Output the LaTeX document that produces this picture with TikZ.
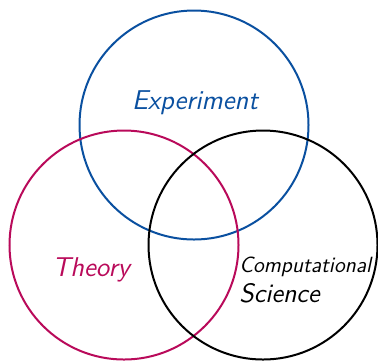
\documentclass[tikz,border=0pt]{standalone}
\usepackage{fontspec}
\definecolor{expblue}{RGB}{10,80,160}
\definecolor{theomag}{RGB}{185,10,90}
\begin{document}
\begin{tikzpicture}[x=0.5pt,y=-0.5pt,
  venn/.style={circle,draw,line width=1pt,minimum size=114.5pt,inner sep=0pt},
  lab/.style={inner sep=0pt}]
\useasboundingbox (0,0) rectangle (378,361);
\node[venn,draw=expblue] (exp) at (194,125) {};
\node[venn,draw=theomag] (theo) at (124,245) {};
\node[venn,draw=black] (comp) at (263,245) {};
\node[lab,text=expblue,font=\sffamily\itshape\fontsize{13.6}{15}\selectfont,anchor=base] (explab) at (195,109) {Experiment};
\node[lab,text=theomag,font=\sffamily\itshape\fontsize{13.6}{15}\selectfont,anchor=base] (theolab) at (91,276) {Theory};
\node[lab,font=\sffamily\itshape\fontsize{11}{13}\selectfont,anchor=base west] (complab) at (239,272) {Computational};
\node[lab,font=\sffamily\itshape\fontsize{13.3}{15}\selectfont,anchor=base west] (scilab) at (239,302) {Science};
\end{tikzpicture}
\end{document}
